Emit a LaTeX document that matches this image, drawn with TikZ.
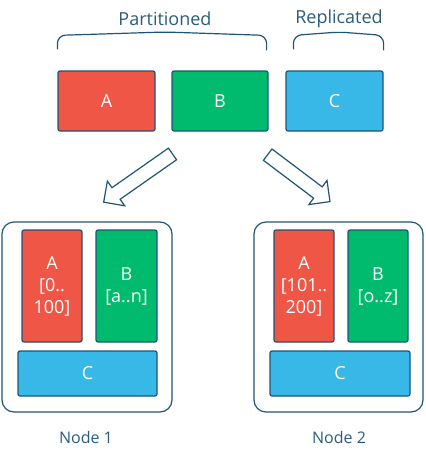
\documentclass[tikz,border=0pt]{standalone}
\usepackage{fontspec}
\setmainfont{Open Sans}
\usetikzlibrary{shapes.arrows}
\definecolor{ink}{HTML}{1E5478}
\definecolor{txt}{HTML}{2A5C7C}
\definecolor{pred}{HTML}{EF5645}
\definecolor{pgreen}{HTML}{00BB6E}
\definecolor{pblue}{HTML}{38B8E6}
\tikzstyle{bx}=[draw=ink,line width=1.2pt,rounded corners=2pt,text=white,align=center,font=\fontsize{18}{22}\selectfont,inner sep=0pt]
\tikzstyle{host}=[draw=ink,line width=1.2pt,rounded corners=12pt,inner sep=0pt]
\tikzstyle{fat}=[single arrow,draw=ink,line width=1.2pt,fill=white,inner sep=6.5pt,single arrow head extend=8pt]
\tikzstyle{lbl}=[text=txt,font=\fontsize{18}{20}\selectfont]
\begin{document}
\begin{tikzpicture}[x=1pt,y=1pt]
\useasboundingbox (0,0) rectangle (426,-456);
% top row
\node[bx,fill=pred,minimum width=97pt,minimum height=60pt] (a) at (106.5,-101) {A};
\node[bx,fill=pgreen,minimum width=96pt,minimum height=60pt] (b) at (220,-101) {B};
\node[bx,fill=pblue,minimum width=97pt,minimum height=60pt] (c) at (334.5,-101) {C};
% braces
\draw[ink,line width=1.2pt,rounded corners=8pt] ([yshift=21pt]a.north west) -- ([yshift=35pt]a.north west) -- (165,-32) -- ([xshift=-2pt,yshift=35pt]b.north east) -- ([xshift=-2pt,yshift=20pt]b.north east);
\draw[ink,line width=1.2pt,rounded corners=8pt] ([xshift=8pt,yshift=21pt]c.north west) -- ([xshift=8pt,yshift=35pt]c.north west) -- (339,-32) -- ([yshift=35pt]c.north east) -- ([yshift=20pt]c.north east);
\node[lbl] (part) at (165,-19) {Partitioned};
\node[lbl] (repl) at (339,-19) {Replicated};
% arrows
\node[fat,minimum height=84pt,rotate=-145] (la) at (141,-176) {};
\node[fat,minimum height=78pt,rotate=-37] (ra) at (296,-176) {};
% node 1
\node[host,minimum width=170pt,minimum height=190pt] (n1) at (87,-317) {};
\node[bx,fill=pred,minimum width=60pt,minimum height=112pt] (a1) at (52,-286) {A\\{[}0..\\100{]}};
\node[bx,fill=pgreen,minimum width=61pt,minimum height=112pt] (b1) at (126.5,-286) {B\\{[}a..n{]}};
\node[bx,fill=pblue,minimum width=139pt,minimum height=45pt] (c1) at (87.5,-373.5) {C};
\node[text=txt,font=\fontsize{16}{18}\selectfont] (l1) at (86,-437) {Node 1};
% node 2
\node[host,minimum width=169pt,minimum height=190pt] (n2) at (338.5,-317) {};
\node[bx,fill=pred,minimum width=60pt,minimum height=112pt] (a2) at (304,-286) {A\\{[}101..\\200{]}};
\node[bx,fill=pgreen,minimum width=60pt,minimum height=112pt] (b2) at (378,-286) {B\\{[}o..z{]}};
\node[bx,fill=pblue,minimum width=140pt,minimum height=45pt] (c2) at (340,-373.5) {C};
\node[text=txt,font=\fontsize{16}{18}\selectfont] (l2) at (339,-437) {Node 2};
\end{tikzpicture}
\end{document}
